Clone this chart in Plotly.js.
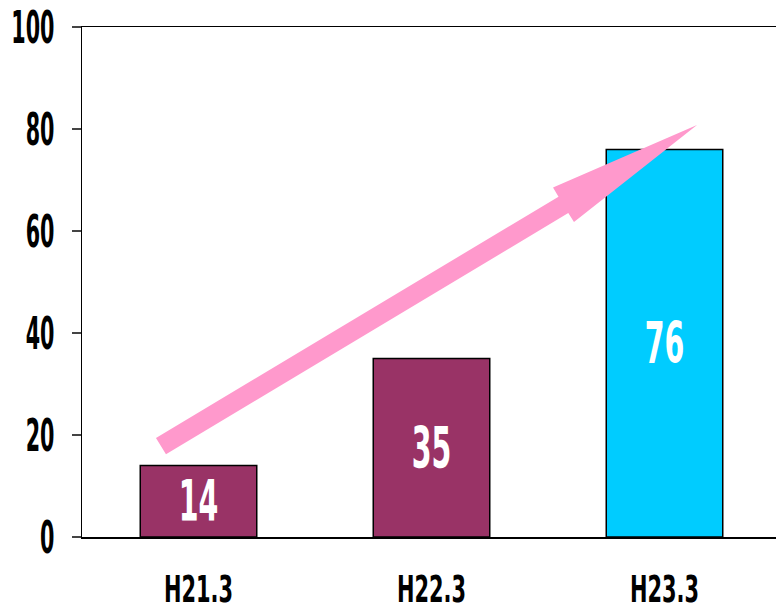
<!DOCTYPE html>
<html>
<head>
<meta charset="utf-8">
<script src="https://cdn.plot.ly/plotly-3.0.1.min.js"></script>
<style>html,body{margin:0;padding:0;background:#fff;}#chart{width:776px;height:616px;}</style>
</head>
<body>
<div id="chart"></div>
<script>
const categories = ['H21.3', 'H22.3', 'H23.3'];
const values = [14, 35, 76];
const barColors = ['#993366', '#993366', '#00CCFF'];
const yTicks = [0, 20, 40, 60, 80, 100];

const W = 776, H = 616;
const M = {l: 82, r: 0, t: 27, b: 79};
const pw = W - M.l - M.r, ph = H - M.t - M.b;
function P(px, py) { return [(px - M.l) / pw, (H - M.b - py) / ph]; }

// decorative arrow outline (pixel positions converted to paper coords)
const arrowPx = [[156,438],[558.5,196.7],[553,187.5],[697,125],[574,222],[568.3,213.1],[166,454.2]];
const arrowPath = arrowPx.map((p, i) => { const q = P(p[0], p[1]); return (i ? 'L' : 'M') + q[0].toFixed(4) + ',' + q[1].toFixed(4); }).join(' ') + ' Z';

const FONT = '"DejaVu Sans", sans-serif';

const trace = {
  type: 'bar',
  x: categories,
  y: values,
  width: 0.5,
  marker: {color: barColors, line: {color: '#000', width: 1.5}},
  text: values.map(String),
  textposition: 'inside',
  insidetextanchor: 'middle',
  constraintext: 'none',
  textfont: {family: FONT, size: 57, color: '#fff', weight: 'bold'},
  hoverinfo: 'none'
};

const layout = {
  width: W, height: H,
  margin: M,
  paper_bgcolor: '#fff', plot_bgcolor: '#fff',
  showlegend: false,
  font: {family: FONT, color: '#000'},
  xaxis: {
    type: 'category',
    range: [-0.5, -0.5 + pw / 233],
    showline: true, linecolor: '#000', linewidth: 1.5, mirror: true,
    ticks: '', showgrid: false, zeroline: false,
    tickfont: {family: FONT, size: 38, color: '#000', weight: 'bold'},
    ticklabelstandoff: 18
  },
  yaxis: {
    range: [0, 100],
    tickvals: yTicks,
    ticktext: yTicks.map(String),
    showline: true, linecolor: '#000', linewidth: 1.5,
    ticks: 'outside', ticklen: 9, tickcolor: '#444', tickwidth: 1.5,
    showgrid: false, zeroline: false,
    tickfont: {family: FONT, size: 45, color: '#000', weight: 'bold'},
    ticklabelstandoff: 8
  },
  shapes: [{
    type: 'path', xref: 'paper', yref: 'paper', path: arrowPath,
    fillcolor: '#FF99CC', line: {width: 0}, layer: 'above'
  }]
};

// narrow the glyphs horizontally to mimic the condensed typeface of the original
function condense(sel, factor) {
  document.querySelectorAll(sel).forEach(t => {
    const len = t.getComputedTextLength();
    if (len > 0) {
      t.setAttribute('textLength', (len * factor).toFixed(1));
      t.setAttribute('lengthAdjust', 'spacingAndGlyphs');
    }
  });
}

Plotly.newPlot('chart', [trace], layout, {displayModeBar: false, staticPlot: true}).then(() => {
  condense('#chart .ytick text', 0.46);
  condense('#chart .xtick text', 0.55);
  condense('#chart .bartext', 0.5);
});
</script>
</body>
</html>
